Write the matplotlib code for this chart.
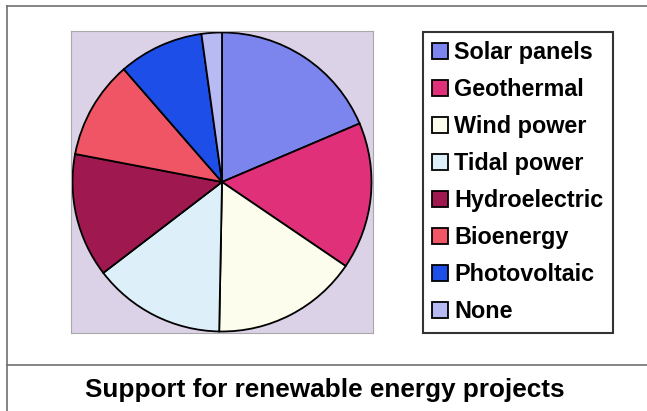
import matplotlib
matplotlib.use("Agg")
import matplotlib.pyplot as plt
from matplotlib.lines import Line2D

# slice shares (percent), read clockwise from 12 o'clock
labels = ["Solar panels", "Geothermal", "Wind power", "Tidal power",
          "Hydroelectric", "Bioenergy", "Photovoltaic", "None"]
shares = [18.6, 15.9, 15.8, 14.3, 13.4, 10.6, 9.2, 2.2]
colors = ["#7c84ee", "#e0307a", "#fdfdee", "#ddf0fa",
          "#a01850", "#f05565", "#1e4ee8", "#b8baf4"]
title = "Support for renewable energy projects"

plt.rcParams['font.family'] = ['Liberation Sans', 'DejaVu Sans']

fig = plt.figure(figsize=(6.47, 4.11), dpi=100)
W, H = 647, 411

# pie axes: centre (222, 182) px, radius 151 px
cx, cy, r = 222, 182, 151
ax = fig.add_axes([(cx - r) / W, (H - cy - r) / H, 2 * r / W, 2 * r / H])

wedges, _ = ax.pie(shares, colors=colors, startangle=90, counterclock=False,
                   radius=1.0, frame=True,
                   wedgeprops=dict(edgecolor="black", linewidth=1.3))
ax.set_facecolor("#dcd2e8")
for s in ax.spines.values():
    s.set_color("#a8a8a8")
    s.set_linewidth(0.8)
ax.set_xticks([])
ax.set_yticks([])
ax.set_xlim(-1.01, 1.01)
ax.set_ylim(-1.01, 1.01)
ax.set_aspect("equal")

# legend
leg = fig.legend(wedges, labels, loc="upper left",
                 bbox_to_anchor=(423 / W, 1 - 32 / H),
                 prop=dict(weight="bold", size=16.8),
                 handlelength=0.66, handleheight=0.66, handletextpad=0.28,
                 labelspacing=0.6, borderpad=0.4, borderaxespad=0,
                 fancybox=False, frameon=True)
leg.get_frame().set_edgecolor("black")
leg.get_frame().set_linewidth(1.5)
for h in leg.legend_handles:
    h.set_linewidth(1.3)

# frame lines
lc = "#707070"
fig.add_artist(Line2D([7 / W, 1], [1 - 6 / H, 1 - 6 / H], color=lc, lw=1.2))
fig.add_artist(Line2D([7 / W, 7 / W], [0, 1 - 6 / H], color=lc, lw=1.2))
fig.add_artist(Line2D([7 / W, 1], [1 - 365 / H, 1 - 365 / H], color=lc, lw=1.2))

fig.text(325 / W, 1 - 390 / H, title, ha="center", va="center",
         fontsize=18.8, fontweight="bold")

fig.savefig("out.png", dpi=100, facecolor="white")
